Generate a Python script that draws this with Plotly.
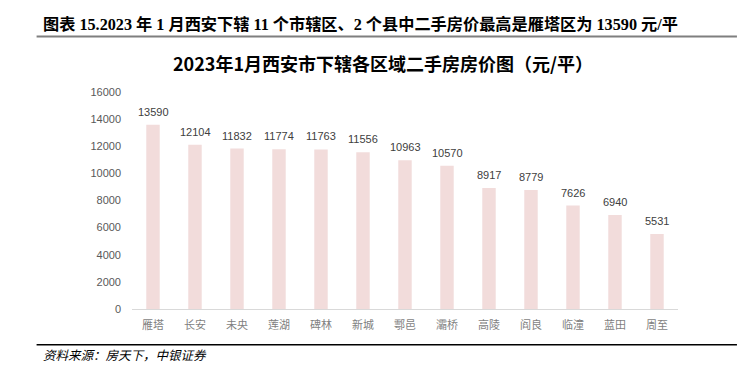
import plotly.graph_objects as go

districts = ["雁塔", "长安", "未央", "莲湖", "碑林", "新城", "鄠邑", "灞桥", "高陵", "阎良", "临潼", "蓝田", "周至"]
prices = [13590, 12104, 11832, 11774, 11763, 11556, 10963, 10570, 8917, 8779, 7626, 6940, 5531]
y_ticks = [0, 2000, 4000, 6000, 8000, 10000, 12000, 14000, 16000]
y_tick_text = ["0", "2000", "4000", "6000", "8000", "10000", "12000", "14000", "16000"]

header = "图表 15.2023 年 1 月西安下辖 11 个市辖区、2 个县中二手房价最高是雁塔区为 13590 元/平"
title = "2023年1月西安市下辖各区域二手房房价图（元/平）"
source = "资料来源：房天下，中银证券"

W, H = 748, 380
L, R, T, B = 131.5, 70, 92.3, 70.7
pw, ph = W - L - R, H - T - B

def px(x):
    return (x - L) / pw

def py(y):
    return (H - B - y) / ph

fig = go.Figure()
fig.add_trace(go.Bar(
    x=districts, y=prices,
    marker=dict(color="#F2DCDB", line=dict(width=0)),
    width=0.32,
    hoverinfo="x+y",
))

for d, v in zip(districts, prices):
    fig.add_annotation(x=d, y=v, text=str(v), showarrow=False,
                       yanchor="bottom", yshift=5,
                       font=dict(family="Liberation Sans, Arial, sans-serif", size=11, color="#404040"))

fig.add_annotation(xref="paper", yref="paper", x=px(40), y=py(25), text="<b>" + header + "</b>",
                   showarrow=False, xanchor="left", yanchor="middle",
                   font=dict(family="Liberation Serif, Noto Sans CJK SC", size=16.2, color="#000000"))
fig.add_annotation(xref="paper", yref="paper", x=px(383), y=py(63), text="<b>" + title + "</b>",
                   showarrow=False, xanchor="center", yanchor="middle",
                   font=dict(family="Noto Sans CJK SC", size=18, color="#000000"))
fig.add_annotation(xref="paper", yref="paper", x=px(40), y=py(355), text="<i>" + source + "</i>",
                   showarrow=False, xanchor="left", yanchor="middle",
                   font=dict(family="Noto Sans CJK SC", size=12.5, color="#000000"))

fig.add_shape(type="line", xref="paper", yref="paper", x0=px(36), x1=px(737), y0=py(36.7), y1=py(36.7),
              line=dict(color="#7f7f7f", width=2))
fig.add_shape(type="line", xref="paper", yref="paper", x0=px(36), x1=px(737), y0=py(345), y1=py(345),
              line=dict(color="#000000", width=1.5))

fig.update_layout(
    width=W, height=H,
    margin=dict(l=L, r=R, t=T, b=B, autoexpand=False),
    plot_bgcolor="white", paper_bgcolor="white",
    showlegend=False,
    xaxis=dict(showline=True, linecolor="#d9d9d9", linewidth=1, showgrid=False, ticks="",
               tickfont=dict(family="Noto Sans CJK SC", size=11, color="#7f7f7f"), ticklabelstandoff=6),
    yaxis=dict(range=[0, 16000], tickvals=y_ticks, ticktext=y_tick_text, showgrid=False, zeroline=False,
               showline=False, ticks="",
               tickfont=dict(family="Liberation Sans, Arial, sans-serif", size=11, color="#595959"),
               ticklabelstandoff=10),
)

fig.write_html("out.html", config={"displayModeBar": False},
               post_script="document.body.style.margin='0';document.body.style.padding='0';")
